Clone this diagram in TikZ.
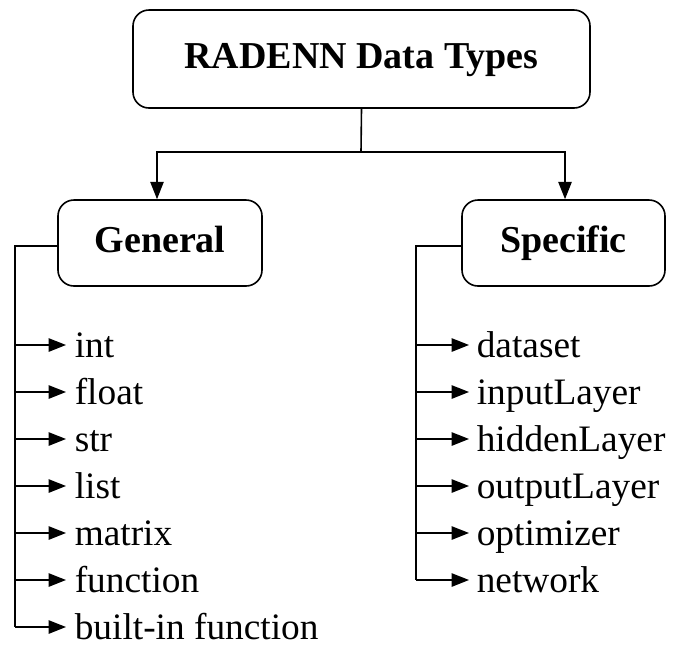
\documentclass[tikz,border=0pt]{standalone}
\usepackage{fontspec}
\setmainfont{Liberation Serif}
\usetikzlibrary{arrows.meta}
\begin{document}
\begin{tikzpicture}[
x=0.75pt, y=-0.75pt,
line width=1.2pt,
box/.style={rectangle, rounded corners=12pt, draw, font=\fontsize{28.5}{32}\selectfont\bfseries, inner sep=0pt, text height=20pt, text depth=6pt},
item/.style={anchor=base west, font=\fontsize{28}{32}\selectfont, inner sep=0pt},
arr/.style={-{Triangle[length=13pt,width=10pt]}}
]
\useasboundingbox (0,0) rectangle (684,651);
\node[box, minimum width=457*0.75pt, minimum height=98*0.75pt] (top) at (361.5,59) {RADENN Data Types};
\node[box, minimum width=204*0.75pt, minimum height=86*0.75pt] (gen) at (160,243) {General};
\node[box, minimum width=203*0.75pt, minimum height=86*0.75pt] (spec) at (563.5,243) {Specific};
\coordinate (mid) at (361,152);
\draw (top.south) -- (mid);
\draw[arr] (mid) -| (gen.north -| 157,0);
\draw[arr] (mid) -| (spec.north -| 565,0);
% general items
\coordinate (gl) at (15,246);
\draw (gen.west |- gl) -- (gl) -- (15,627);
\foreach \t [count=\i] in {int,float,str,list,matrix,function,built-in function}{
  \node[item] (g\i) at (74,357+47*\i-47) {\t};
  \draw[arr] (15,345+47*\i-47) -- (66,345+47*\i-47);
}
% specific items
\coordinate (sl) at (416,246);
\draw (spec.west |- sl) -- (sl) -- (416,580);
\foreach \t [count=\i] in {dataset,inputLayer,hiddenLayer,outputLayer,optimizer,network}{
  \node[item] (s\i) at (476,357+47*\i-47) {\t};
  \draw[arr] (416,345+47*\i-47) -- (469,345+47*\i-47);
}
\end{tikzpicture}
\end{document}
